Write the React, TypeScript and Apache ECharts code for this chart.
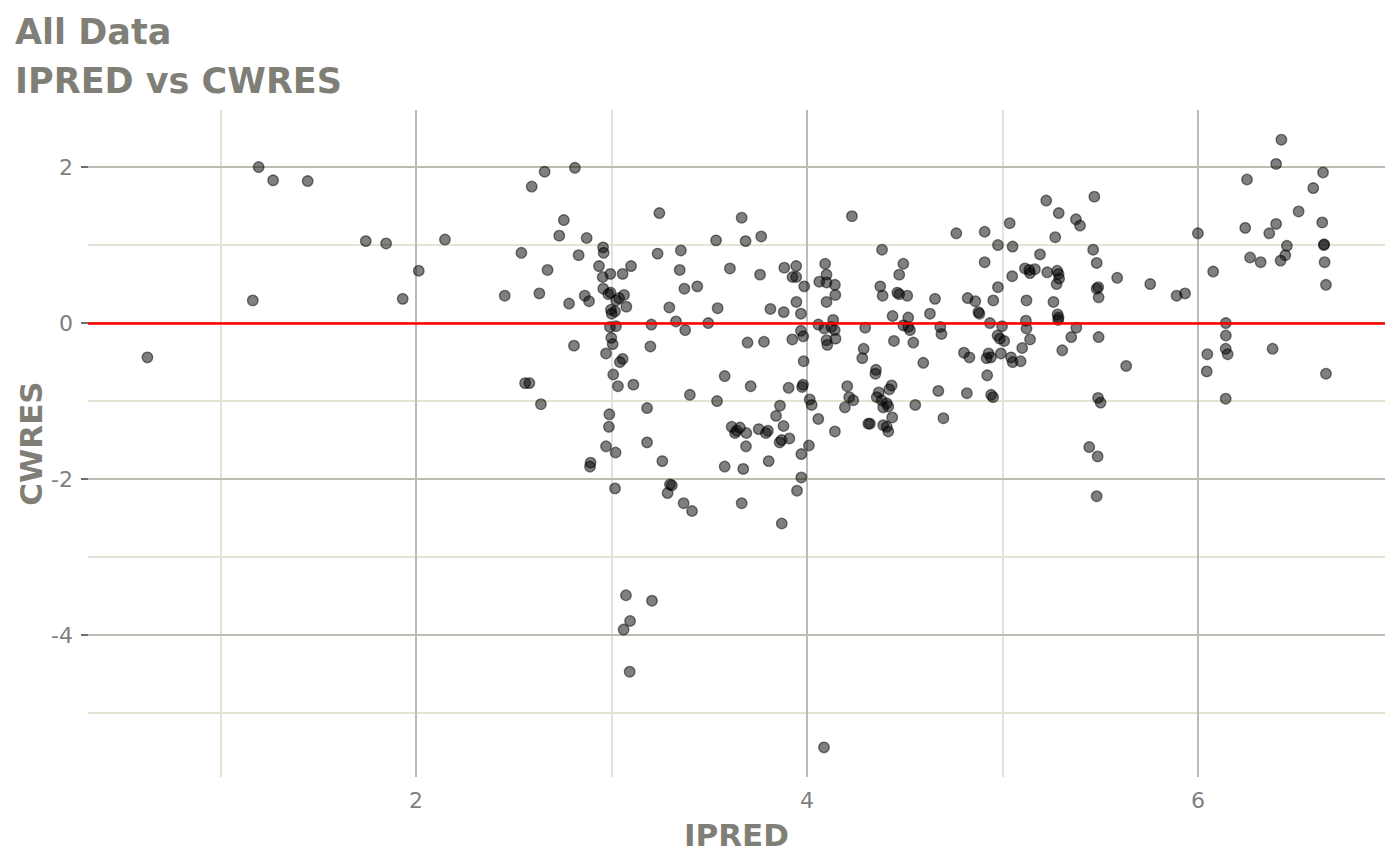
import React, { useEffect, useRef } from "react";
import * as echarts from "echarts";

// IPRED (x) and CWRES (y) values
const ipred = [
  1.195, 1.269, 1.446, 1.743, 1.847, 2.148, 2.014, 1.932, 1.165, 0.626, 2.454,
  2.658, 2.813, 2.592, 2.756, 2.733, 2.873, 2.957, 2.96, 2.539, 2.832, 3.245, 3.236, 3.355, 3.535, 3.666, 3.686, 3.766,
  2.673, 2.936, 2.955, 2.994, 3.057, 3.1, 3.349, 3.606, 3.76, 3.884, 3.945, 3.926, 3.945, 3.986, 4.093, 4.063, 4.1, 4.1,
  2.631, 2.783, 2.863, 2.885, 2.958, 2.984, 2.995, 3.024, 3.039, 3.064, 3.076, 2.997, 3.018, 3.001, 2.992, 3.023, 2.999,
  3.006, 2.972, 2.808, 3.043, 3.057, 3.009, 3.033, 3.112, 2.558, 2.58, 2.639, 3.296, 3.373, 3.439, 3.33, 3.204, 3.377,
  3.495, 3.543, 3.199, 3.696, 3.78, 3.813, 3.881, 3.946, 3.969, 3.925, 3.969, 3.981, 3.983, 4.058, 4.089, 4.104, 4.1,
  3.579, 3.712, 3.906, 3.98, 3.975, 3.401, 3.54, 3.182, 2.989, 2.987, 2.972, 3.182, 3.862, 3.842, 3.88, 4.014, 4.024,
  4.058, 3.615, 3.64, 3.657, 3.69, 3.632, 3.753, 3.79, 3.8, 3.86, 3.87, 3.91, 3.688, 4.01,
  3.021, 2.893, 2.89, 3.26, 3.018, 3.299, 3.309, 3.287, 3.369, 3.412, 3.579, 3.674, 3.804, 3.666, 3.971, 3.971, 3.949,
  3.871, 3.074, 3.207, 3.095, 3.062, 3.093, 4.087,
  4.23, 4.384, 4.143, 4.145, 4.1, 4.134, 4.125, 4.142, 4.146, 4.298, 4.29, 4.283, 4.353, 4.35, 4.206, 4.216, 4.237,
  4.194, 4.367, 4.357, 4.382, 4.39, 4.416, 4.408, 4.433, 4.421, 4.436, 4.314, 4.322, 4.39, 4.408, 4.416, 4.143, 4.438,
  4.472, 4.493, 4.375, 4.387, 4.462, 4.472, 4.513, 4.518, 4.493, 4.518, 4.527, 4.445, 4.544, 4.595, 4.655, 4.629, 4.682,
  4.688, 4.672, 4.698, 4.554, 4.764, 4.909, 5.037, 4.977, 5.052, 4.909, 4.977, 5.05, 4.822, 4.861, 4.953, 4.877, 4.882,
  4.936, 4.998, 4.975, 4.987, 5.009, 4.992, 4.929, 4.941, 4.919, 4.803, 4.831, 4.922, 4.942, 4.952, 4.818, 5.044, 5.052,
  5.093, 5.101, 5.12, 5.123, 5.141, 5.123, 5.115, 5.141, 5.137, 5.166, 5.192, 5.224, 5.288, 5.27, 5.376, 5.397, 5.47,
  5.464, 5.482, 5.229, 5.28, 5.287, 5.29, 5.277, 5.261, 5.282, 5.287, 5.285, 5.378, 5.352, 5.306, 5.49, 5.482, 5.492,
  5.492, 5.489, 5.502, 5.587, 5.444, 5.487, 5.482,
  6.427, 6.4, 6.64, 6.251, 6.59, 6.515, 6.242, 6.4, 6.365, 6.636, 6.0, 6.644, 6.646, 6.455, 6.447, 6.423, 6.267, 6.321,
  6.648, 6.655, 6.078, 5.756, 5.891, 5.934, 6.143, 6.143, 6.142, 6.152, 6.048, 6.045, 6.142, 6.382, 6.655, 5.633,
];
const cwres = [
  2.0, 1.83, 1.82, 1.05, 1.02, 1.07, 0.67, 0.31, 0.29, -0.44, 0.35,
  1.94, 1.99, 1.75, 1.32, 1.12, 1.09, 0.97, 0.9, 0.9, 0.87, 1.41, 0.89, 0.93, 1.06, 1.35, 1.05, 1.11,
  0.68, 0.73, 0.59, 0.63, 0.63, 0.73, 0.68, 0.7, 0.62, 0.71, 0.73, 0.59, 0.59, 0.47, 0.76, 0.53, 0.62, 0.27,
  0.38, 0.25, 0.35, 0.28, 0.44, 0.37, 0.39, 0.29, 0.32, 0.36, 0.21, 0.17, 0.15, 0.12, -0.05, -0.04, -0.19,
  -0.27, -0.39, -0.29, -0.5, -0.46, -0.66, -0.81, -0.79, -0.77, -0.77, -1.04, 0.2, 0.44, 0.47, 0.02, -0.02, -0.09,
  0.0, 0.19, -0.3, -0.25, -0.24, 0.18, 0.14, 0.27, 0.12, -0.21, -0.1, -0.17, -0.49, -0.02, -0.07, -0.28, -0.22,
  -0.68, -0.81, -0.83, -0.79, -0.82, -0.92, -1.0, -1.09, -1.17, -1.33, -1.58, -1.53, -1.06, -1.19, -1.32, -0.98, -1.05,
  -1.23, -1.33, -1.38, -1.34, -1.41, -1.41, -1.36, -1.41, -1.38, -1.53, -1.5, -1.48, -1.58, -1.57,
  -1.66, -1.79, -1.84, -1.77, -2.12, -2.07, -2.08, -2.18, -2.31, -2.41, -1.84, -1.87, -1.77, -2.31, -1.68, -1.98, -2.15,
  -2.57, -3.49, -3.56, -3.82, -3.93, -4.47, -5.44,
  1.37, 0.94, 0.49, 0.36, 0.52, 0.04, -0.05, -0.09, -0.2, -0.06, -0.33, -0.45, -0.6, -0.65, -0.81, -0.95, -0.99,
  -1.08, -0.89, -0.95, -0.99, -1.08, -1.07, -1.03, -0.8, -0.85, -1.21, -1.29, -1.29, -1.31, -1.33, -1.39, -1.39, 0.09,
  0.62, 0.76, 0.47, 0.35, 0.39, 0.37, 0.35, 0.07, -0.03, -0.05, -0.09, -0.23, -0.25, -0.51, 0.31, 0.12, -0.05,
  -0.14, -0.87, -1.22, -1.05, 1.15, 1.17, 1.28, 1.0, 0.98, 0.78, 0.46, 0.6, 0.32, 0.28, 0.29, 0.14, 0.12,
  0.0, -0.04, -0.16, -0.2, -0.23, -0.39, -0.39, -0.44, -0.45, -0.38, -0.44, -0.67, -0.92, -0.95, -0.9, -0.44, -0.5,
  -0.49, -0.32, 0.03, -0.07, -0.21, 0.29, 0.7, 0.64, 0.68, 0.69, 0.88, 1.57, 1.41, 1.1, 1.33, 1.25, 1.62,
  0.94, 0.77, 0.65, 0.67, 0.63, 0.57, 0.5, 0.27, 0.11, 0.07, 0.04, -0.06, -0.18, -0.35, 0.46, 0.44, 0.33,
  -0.18, -0.96, -1.02, 0.58, -1.59, -1.71, -2.22,
  2.35, 2.04, 1.93, 1.84, 1.73, 1.43, 1.22, 1.27, 1.15, 1.29, 1.15, 1.0, 1.01, 0.99, 0.87, 0.8, 0.84, 0.78,
  0.78, 0.49, 0.66, 0.5, 0.35, 0.38, 0.0, -0.16, -0.33, -0.4, -0.4, -0.62, -0.97, -0.33, -0.65, -0.55,
];

const xRange = [0.322, 6.957];
const yRange = [-5.82, 2.731];
const xMajor = [2, 4, 6];
const xMinor = [1, 3, 5];
const yMajor = [-4, -2, 0, 2];
const yMinor = [-5, -3, -1, 1];
const xTickLabels = [2, 4, 6];
const yTickLabels = [-4, -2, 0, 2];
const referenceLine = 0;

const FONT = "DejaVu Sans";
const TITLE_COLOR = "#7f7f77";
const TICK_COLOR = "#7f7f7f";
const MAJOR_GRID = "#bcbcb0";
const MINOR_GRID = "#e4e4d4";

export default function App() {
  const ref = useRef<HTMLDivElement>(null);

  useEffect(() => {
    if (!ref.current) return;
    const chart = echarts.init(ref.current, null, { renderer: "svg" });

    const gridLines: any[] = [];
    xMinor.forEach((v) => gridLines.push({ xAxis: v, lineStyle: { color: MINOR_GRID, width: 2, type: "solid" } }));
    yMinor.forEach((v) => gridLines.push({ yAxis: v, lineStyle: { color: MINOR_GRID, width: 2, type: "solid" } }));
    xMajor.forEach((v) => gridLines.push({ xAxis: v, lineStyle: { color: MAJOR_GRID, width: 2, type: "solid" } }));
    yMajor.forEach((v) => gridLines.push({ yAxis: v, lineStyle: { color: MAJOR_GRID, width: 2, type: "solid" } }));

    const option: any = {
      animation: false,
      backgroundColor: "#ffffff",
      title: {
        text: "All Data\nIPRED vs CWRES",
        left: 10,
        top: 2,
        textStyle: {
          fontFamily: FONT,
          fontWeight: "bold",
          fontSize: 35,
          lineHeight: 49,
          color: TITLE_COLOR,
        },
      },
      grid: { left: 88, right: 15, top: 110, bottom: 88, containLabel: false, outerBoundsMode: "none" },
      xAxis: {
        type: "value",
        min: xRange[0],
        max: xRange[1],
        name: "IPRED",
        nameLocation: "middle",
        nameGap: 42,
        nameMoveOverlap: false,
        nameTextStyle: { fontFamily: FONT, fontWeight: "bold", fontSize: 31, color: TITLE_COLOR },
        axisLine: { show: false },
        axisTick: { show: true, customValues: xTickLabels, length: 7, lineStyle: { color: "#6f6f6f", width: 2 } },
        axisLabel: { customValues: xTickLabels, fontFamily: FONT, fontSize: 22, color: TICK_COLOR, margin: 12 },
        splitLine: { show: false },
        minorSplitLine: { show: false },
      },
      yAxis: {
        type: "value",
        min: yRange[0],
        max: yRange[1],
        name: "CWRES",
        nameLocation: "middle",
        nameGap: 42,
        nameMoveOverlap: false,
        nameTextStyle: { fontFamily: FONT, fontWeight: "bold", fontSize: 31, color: TITLE_COLOR },
        axisLine: { show: false },
        axisTick: { show: true, customValues: yTickLabels, length: 7, lineStyle: { color: "#6f6f6f", width: 2 } },
        axisLabel: { customValues: yTickLabels, fontFamily: FONT, fontSize: 22, color: TICK_COLOR, margin: 15 },
        splitLine: { show: false },
        minorSplitLine: { show: false },
      },
      series: [
        {
          type: "scatter",
          data: [],
          silent: true,
          z: 1,
          markLine: {
            silent: true,
            symbol: "none",
            z: 1,
            animation: false,
            label: { show: false },
            emphasis: { disabled: true },
            data: gridLines,
          },
        },
        {
          type: "scatter",
          z: 2,
          symbol: "circle",
          symbolSize: 10.5,
          data: ipred.map((x, i) => [x, cwres[i]]),
          itemStyle: { color: "rgba(0,0,0,0.5)", borderColor: "rgba(0,0,0,0.5)", borderWidth: 1.3, opacity: 1 },
          emphasis: { disabled: true },
        },
        {
          type: "scatter",
          data: [],
          silent: true,
          z: 5,
          markLine: {
            silent: true,
            symbol: "none",
            z: 5,
            animation: false,
            label: { show: false },
            emphasis: { disabled: true },
            lineStyle: { color: "#ff0000", width: 2.7, type: "solid" },
            data: [{ yAxis: referenceLine }],
          },
        },
      ],
    };

    chart.setOption(option);
    return () => chart.dispose();
  }, []);

  return (
    <div
      ref={ref}
      style={{ position: "fixed", left: 0, top: 0, width: 1400, height: 865, background: "#fff" }}
    />
  );
}
